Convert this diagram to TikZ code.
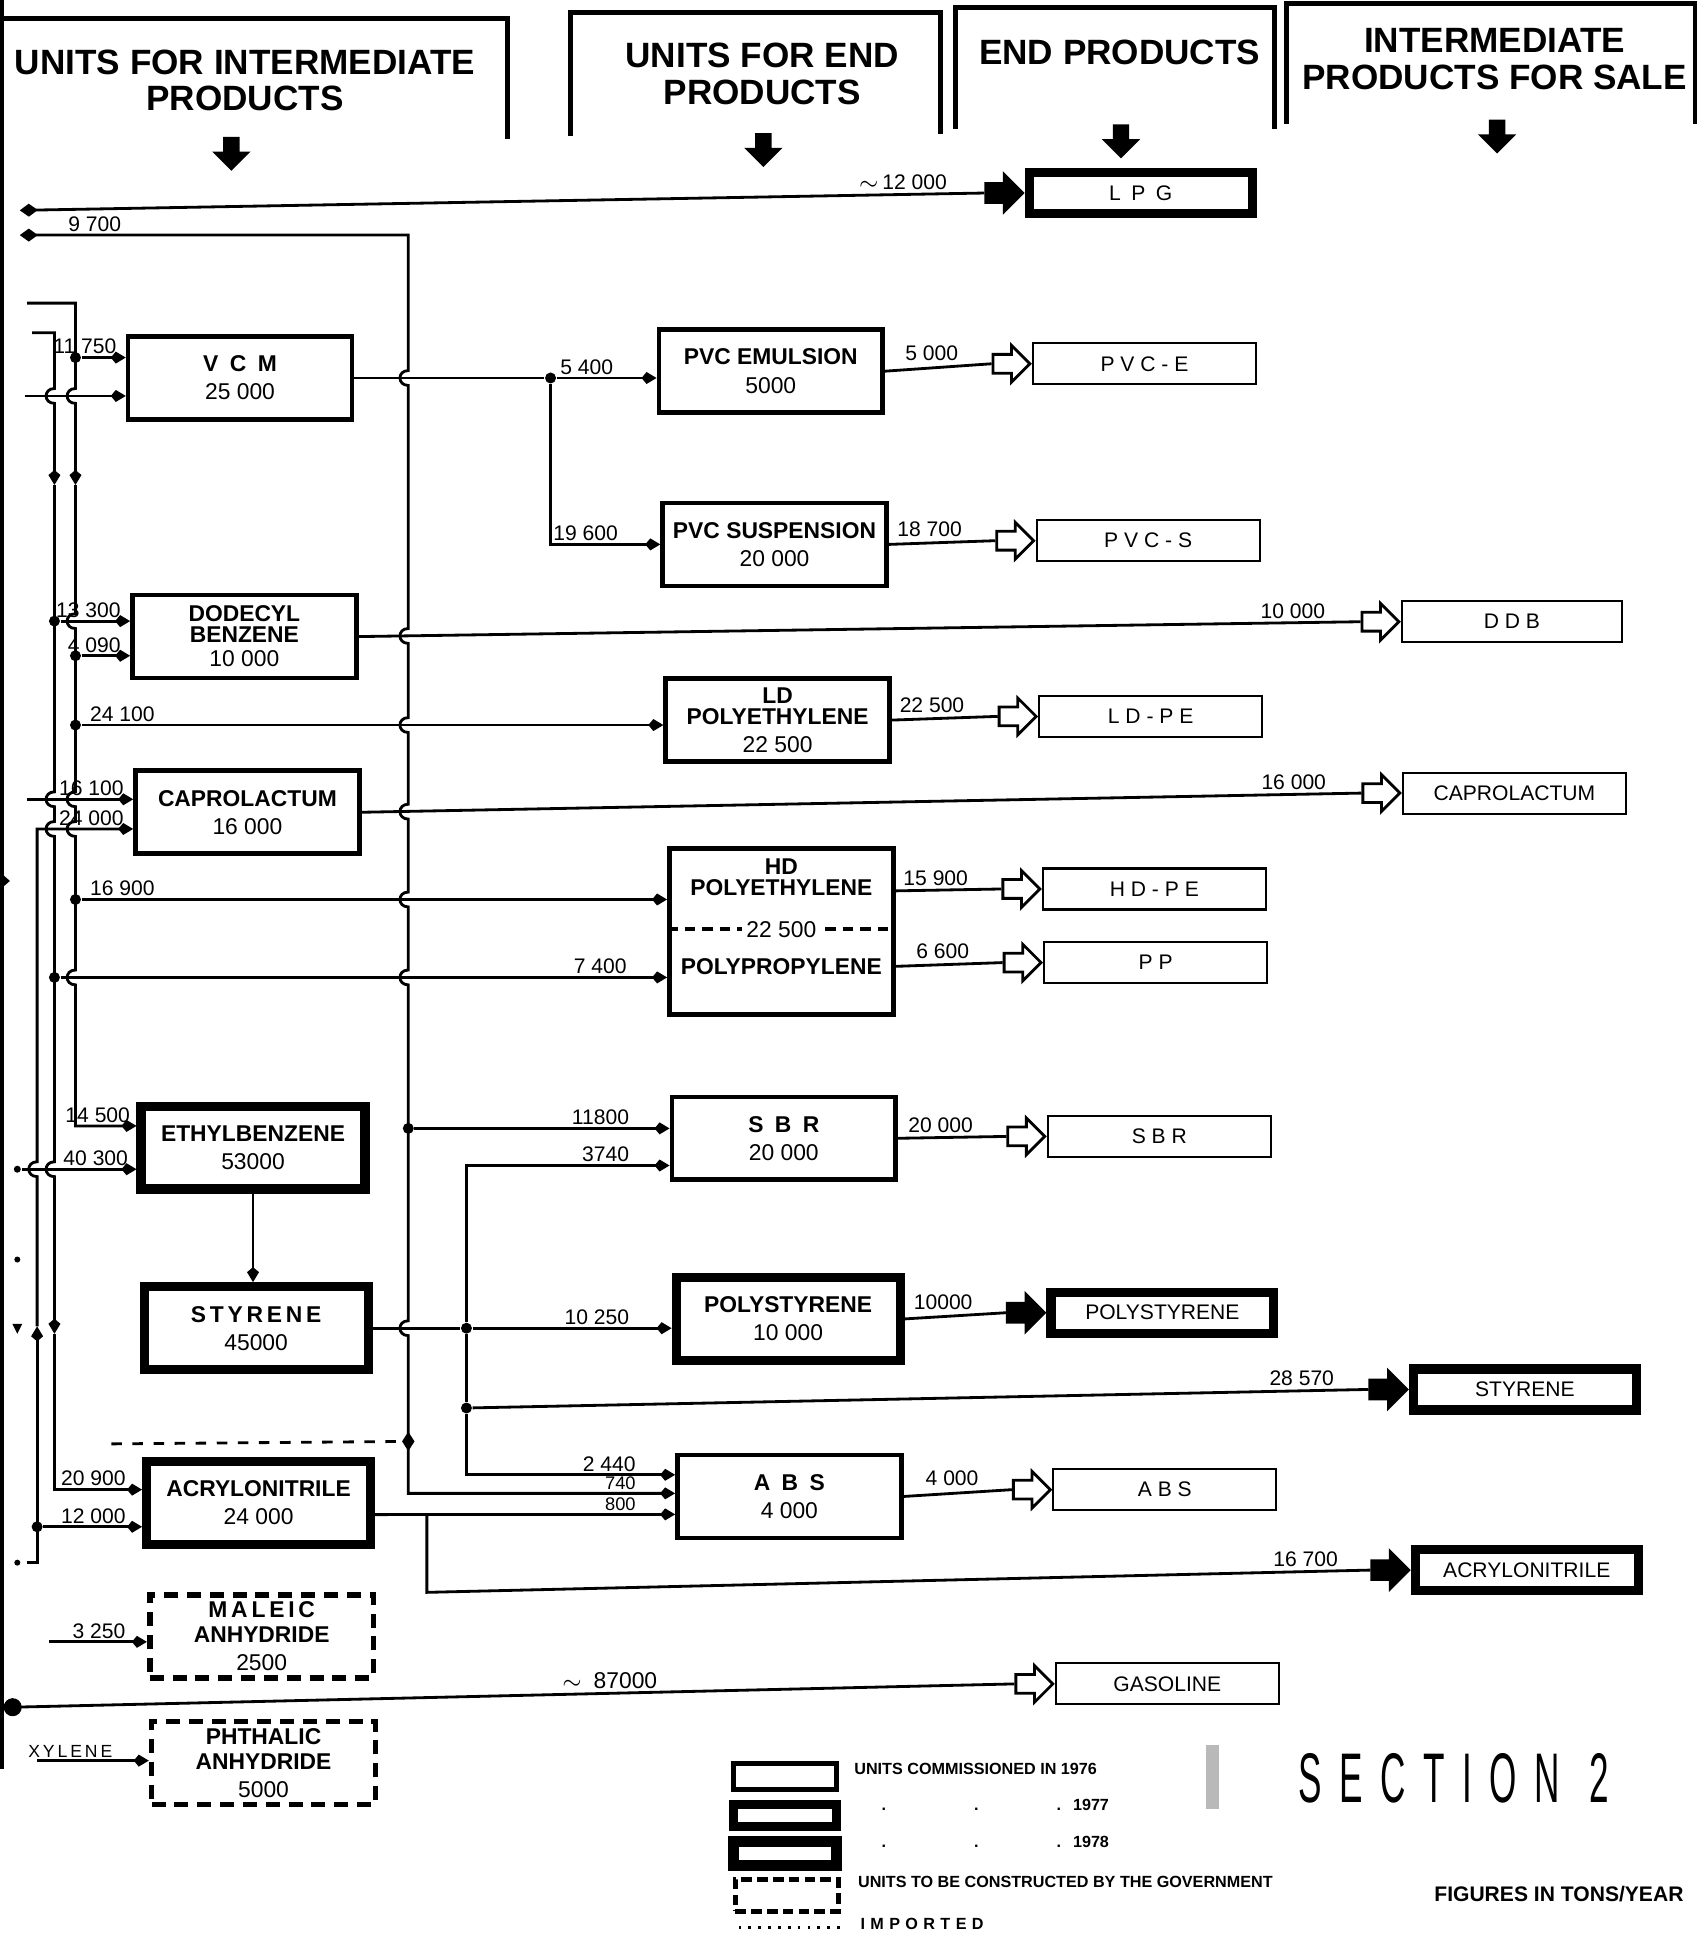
\documentclass[tikz,border=0pt]{standalone}
\usepackage{fontspec}
\setmainfont{Liberation Sans}
\usepackage{graphicx}
\usepackage{tikz}
\usetikzlibrary{arrows.meta,positioning,shapes.geometric,shapes.arrows}

\newcommand{\hopd}[2]{-- (#1,#2-6) .. controls (#1-9,#2-6) and (#1-9,#2+6) .. (#1,#2+6)}
\newcommand{\hopu}[2]{-- (#1,#2+6) .. controls (#1-9,#2+6) and (#1-9,#2-6) .. (#1,#2-6)}

\begin{document}
\begin{tikzpicture}[x=0.12377mm, y=-0.12377mm,
  >={Kite[length=1.5mm,width=1.2mm,inset=0.5mm]},
  unit/.style={draw, line width=1.3pt, minimum width=22.4mm, minimum height=8.3mm, align=center, inner sep=0pt, font=\fontsize{6.5}{8}\selectfont},
  unitB/.style={unit, line width=2.6pt},
  gov/.style={unit, line width=1.6pt, dash pattern=on 4pt off 2.5pt},
  prod/.style={draw, line width=0.6pt, minimum width=22.3mm, minimum height=4.1mm, inner sep=0pt, font=\fontsize{6}{6}\selectfont},
  prodB/.style={prod, line width=2.6pt},
  pipe/.style={line width=0.8pt},
  flow/.style={pipe, ->},
  jn/.style={circle, fill, inner sep=0pt, minimum size=1.1mm},
  lbl/.style={font=\fontsize{6}{6}\selectfont, inner sep=0.6pt, anchor=south east},
  outarr/.style={single arrow, draw, line width=0.8pt, fill=white, minimum height=3.7mm, inner sep=0.8mm, single arrow head extend=0.9mm, anchor=tip},
  outarrB/.style={outarr, fill=black},
  head/.style={font=\fontsize{10}{10.5}\selectfont\bfseries, align=center, inner sep=0pt},
  hdarr/.style={single arrow, fill=black, rotate=-90, minimum height=3.4mm, inner sep=0.75mm, single arrow head extend=1.1mm},
  frame/.style={line width=1.4pt},
  legend/.style={draw, minimum width=10.3mm, minimum height=2.6mm, inner sep=0pt},
  note/.style={font=\fontsize{4.6}{5}\selectfont\bfseries, anchor=west, inner sep=0pt}
]
\useasboundingbox (0,0) rectangle (1380,1568);

\node[head] (h1) at (198,65) {UNITS FOR INTERMEDIATE\\PRODUCTS};
\node[head] (h2) at (616,60) {UNITS FOR END\\PRODUCTS};
\node[head] (h3) at (905,42) {END PRODUCTS};
\node[head] (h4) at (1208,48) {INTERMEDIATE\\PRODUCTS FOR SALE};
\draw[frame] (0,15) -- (410,15) -- (410,112);
\draw[frame] (461,110) |- (760,10) -- (760,108);
\draw[frame] (772,104) |- (1030,6) -- (1030,104);
\draw[frame] (1040,100) |- (1370,3) -- (1370,100);
\node[hdarr] (ha1) at (187,121) {};
\node[hdarr] (ha2) at (617,118) {};
\node[hdarr] (ha3) at (906,111) {};
\node[hdarr] (ha4) at (1210,107) {};
\draw[line width=1.5pt] (1,0) -- (1,1430);
\fill (0,705) -- (8,712) -- (0,719) -- cycle;

\node[unit] (vcm) at (194,305.5) {\textbf{V\enspace C\enspace M}\\25 000};
\node[unit] (ddb) at (197.5,514.5) {\textbf{DODECYL}\\[-2.2pt]\textbf{BENZENE}\\[-1pt]10 000};
\node[unit] (cap) at (200,656.5) {\textbf{CAPROLACTUM}\\16 000};
\node[unitB] (etb) at (204.5,927.5) {\textbf{ETHYLBENZENE}\\53000};
\node[unitB] (sty) at (207,1073.5) {\textbf{S\,T\,Y\,R\,E\,N\,E}\\45000};
\node[unitB] (acn) at (209,1214.5) {\textbf{ACRYLONITRILE}\\24 000};
\node[gov] (mal) at (211.5,1322.5) {\textbf{M\,A\,L\,E\,I\,C}\\[-1pt]\textbf{ANHYDRIDE}\\2500};
\node[gov] (pht) at (213,1425) {\textbf{PHTHALIC}\\[-1pt]\textbf{ANHYDRIDE}\\5000};

\node[unit] (pve) at (623,300) {\textbf{PVC EMULSION}\\5000};
\node[unit] (pvs) at (626,440) {\textbf{PVC SUSPENSION}\\20 000};
\node[unit] (ldp) at (628.5,582) {\textbf{LD}\\[-2pt]\textbf{POLYETHYLENE}\\22 500};
\node[unit, minimum height=16.6mm] (hdp) at (631.5,753) {};
\node[font=\fontsize{6.5}{8}\selectfont\bfseries, align=center, inner sep=0pt] (hdTxt) at (631.5,709) {HD\\[-2pt]POLYETHYLENE};
\node[font=\fontsize{6.5}{8}\selectfont\bfseries, inner sep=0pt] (ppTxt) at (631.5,781) {POLYPROPYLENE};
\draw[line width=1.2pt, dash pattern=on 3pt off 2pt] ([yshift=0.25mm]hdp.west) -- ([yshift=0.25mm]hdp.east);
\node[fill=white, inner sep=1.2pt, font=\fontsize{6.5}{8}\selectfont] (hdpCap) at ([yshift=0.25mm]hdp.center) {22 500};
\node[unit] (sbr) at (633.5,920) {\textbf{S\enspace B\enspace R}\\20 000};
\node[unitB] (pst) at (637,1066) {\textbf{POLYSTYRENE}\\10 000};
\node[unit] (abs) at (638,1209.5) {\textbf{A\enspace B\enspace S}\\4 000};

\node[prodB] (lpgP) at (922,156) {L\enspace P\enspace G};
\node[prod] (pveP) at (925,294) {P V C - E};
\node[prod] (pvsP) at (928,437) {P V C - S};
\node[prod] (ldpP) at (930,579) {L D - P E};
\node[prod] (hdpP) at (933,718.5) {H D - P E};
\node[prod] (ppP) at (934,778) {P P};
\node[prod] (sbrP) at (937,918.5) {S B R};
\node[prodB] (pstP) at (939.5,1061) {POLYSTYRENE};
\node[prod] (absP) at (941.5,1204) {A B S};
\node[prod] (gasP) at (943.5,1361) {GASOLINE};
\node[prod, minimum width=22mm] (ddbS) at (1222,502.5) {D D B};
\node[prod] (capS) at (1224,641) {CAPROLACTUM};
\node[prodB] (styS) at (1232.5,1123) {STYRENE};
\node[prodB] (acnS) at (1234,1269) {ACRYLONITRILE};

\node[outarrB] (aLPG) at (lpgP.west) {};
\node[outarr] (aPVE) at (pveP.west) {};
\node[outarr] (aPVS) at (pvsP.west) {};
\node[outarr] (aLDP) at (ldpP.west) {};
\node[outarr] (aHDP) at (hdpP.west) {};
\node[outarr] (aPP) at (ppP.west) {};
\node[outarr] (aSBR) at (sbrP.west) {};
\node[outarrB] (aPST) at (pstP.west) {};
\node[outarr] (aABS) at (absP.west) {};
\node[outarr] (aGAS) at (gasP.west) {};
\node[outarr] (aDDB) at (ddbS.west) {};
\node[outarr] (aCAP) at (capS.west) {};
\node[outarrB] (aSTY) at (styS.west) {};
\node[outarrB] (aACN) at (acnS.west) {};

\coordinate (lpgIn) at (16,170);
\coordinate (c9700) at (16,190);
\coordinate (busTop) at (330,190);
\coordinate (busBot) at (330,1207);
\coordinate (vbIn) at (22,245);
\coordinate (vbTop) at (61,245);
\coordinate (vbMid) at (61,392);
\coordinate (vbBot) at (61,910);
\coordinate (vaIn) at (26,269);
\coordinate (vaTop) at (44,269);
\coordinate (vaMid) at (44,392);
\coordinate (vaMid2) at (44,1078);
\coordinate (vaBot) at (44,1204);
\coordinate (vlIn) at (22,1263);
\coordinate (vlBot) at (30,1263);
\coordinate (vlMid) at (30,1072);
\coordinate (vlTop) at (30,670);
\coordinate (vcmIn2) at (20,320);
\coordinate (capIn1) at (22,646);
\coordinate (etbIn2) at (18,945);
\coordinate (malIn) at (40,1327);
\coordinate (phtIn) at (30,1423);
\coordinate (gasIn) at (3,1380);
\coordinate (dashL) at (90,1167);
\coordinate (cSBR2) at (377,942);
\coordinate (cABS1) at (377,1192);
\coordinate (jACN) at (345,1224);
\coordinate (cACN) at (345,1287);

\node[jn] (jB1) at (61,289) {};
\node[jn] (jB2) at (61,530) {};
\node[jn] (jB3) at (61,586) {};
\node[jn] (jB4) at (61,727) {};
\node[jn] (jA1) at (44,502) {};
\node[jn] (jA2) at (44,790) {};
\node[jn] (jL1) at (30,1234) {};
\node[jn] (jPVC) at (445,305.5) {};
\node[jn] (jSBR) at (330,912) {};
\node[jn] (jN2) at (377,1073.5) {};
\node[jn] (jN3) at (377,1138) {};
\node[diamond, fill, inner sep=0pt, minimum width=1.3mm, minimum height=2mm] (jDash) at (330,1165) {};

\draw[pipe, arrows={Diamond[length=1.8mm,width=1.3mm]-}] (lpgIn) -- (aLPG.tail) node[lbl, pos=1, xshift=-3.4mm] {$\sim$\,12 000};
\draw[pipe, arrows={Diamond[length=1.8mm,width=1.3mm]->}] (c9700) -- (busTop) node[lbl, pos=0.27] {9 700} \hopd{330}{305.5} \hopd{330}{514} \hopd{330}{586} \hopd{330}{656} \hopd{330}{727} \hopd{330}{790} -- (jSBR.center) \hopd{330}{1073.5} -- (jDash.center) -- (busBot) -- (busBot -| abs.west) node[lbl, pos=1, xshift=-3.6mm, font=\fontsize{5.2}{5}\selectfont] {740};

\draw[pipe, ->] (vbIn) -- (vbTop) \hopd{61}{320} -- (vbMid);
\draw[flow] (vbMid) \hopd{61}{502} \hopd{61}{646} \hopd{61}{670} \hopd{61}{790} -- (vbBot) -- (vbBot -| etb.west) node[lbl, pos=1, xshift=-0.3mm] {14 500};
\draw[pipe, ->] (vaIn) -- (vaTop) \hopd{44}{320} -- (vaMid);
\draw[pipe, ->] (vaMid) \hopd{44}{646} \hopd{44}{670} \hopd{44}{945} -- (vaMid2);
\draw[flow] (vaMid2) -- (vaBot) -- (vaBot -| acn.west) node[lbl, pos=1, xshift=-1.3mm] {20 900};
\draw[pipe, ->] (vlIn) -- (vlBot) -- (vlMid);
\draw[flow] (vlMid) \hopu{30}{945} -- (vlTop) -- (vlTop -| cap.west) node[lbl, pos=1, xshift=-0.6mm] {24 000};

\draw[flow] (jB1) -- (jB1 -| vcm.west) node[lbl, pos=1, xshift=-0.6mm] {11 750};
\draw[flow] (vcmIn2) -- (vcmIn2 -| vcm.west);
\draw[pipe] (vcm.east) -- (jPVC);
\draw[flow] (jPVC) -- (jPVC -| pve.west) node[lbl, pos=1, xshift=-4mm] {5 400};
\draw[flow] (jPVC) |- (pvs.west) node[lbl, pos=1, xshift=-3.9mm] {19 600};
\draw[pipe] (pve.east) -- (aPVE.tail) node[lbl, pos=1, xshift=-3mm] {5 000};
\draw[pipe] (pvs.east) -- (aPVS.tail) node[lbl, pos=1, xshift=-3mm] {18 700};

\draw[flow] (jA1) -- (jA1 -| ddb.west) node[lbl, pos=1, xshift=-0.6mm] {13 300};
\draw[flow] (jB2) -- (jB2 -| ddb.west) node[lbl, pos=1, xshift=-0.6mm] {4 090};
\draw[pipe] (ddb.east) -- (aDDB.tail) node[lbl, pos=1, xshift=-3.2mm] {10 000};

\draw[flow] (jB3) -- (jB3 -| ldp.west) node[lbl, pos=0, anchor=south west, xshift=0.5mm] {24 100};
\draw[pipe] (ldp.east) -- (aLDP.tail) node[lbl, pos=1, xshift=-3mm] {22 500};

\draw[flow] (capIn1) -- (capIn1 -| cap.west) node[lbl, pos=1, xshift=-0.6mm] {16 100};
\draw[pipe] (cap.east) -- (aCAP.tail) node[lbl, pos=1, xshift=-3.2mm] {16 000};

\draw[flow] (jB4) -- (jB4 -| hdp.west) node[lbl, pos=0, anchor=south west, xshift=0.5mm] {16 900};
\draw[flow] (jA2) -- (jA2 -| hdp.west) node[lbl, pos=1, xshift=-3.7mm] {7 400};
\draw[pipe] ([yshift=4.08mm]hdp.east) -- (aHDP.tail) node[lbl, pos=1, xshift=-3mm] {15 900};
\draw[pipe] ([yshift=-3.47mm]hdp.east) -- (aPP.tail) node[lbl, pos=1, xshift=-3mm] {6 600};

\draw[flow] (jSBR) -- (jSBR -| sbr.west) node[lbl, pos=1, xshift=-3.7mm] {11800};
\draw[flow] (jN2) -- (cSBR2) -- (cSBR2 -| sbr.west) node[lbl, pos=1, xshift=-3.7mm] {3740};
\draw[pipe] (sbr.east) -- (aSBR.tail) node[lbl, pos=1, xshift=-3mm] {20 000};

\draw[flow] (etbIn2) -- (etbIn2 -| etb.west) node[lbl, pos=1, xshift=-0.5mm] {40 300};
\draw[flow] (etb.south) -- (etb.south |- sty.north);
\draw[pipe] (sty.east) -- (jN2);
\draw[flow] (jN2) -- (jN2 -| pst.west) node[lbl, pos=1, xshift=-3.9mm] {10 250};
\draw[pipe] (pst.east) -- (aPST.tail) node[lbl, pos=1, xshift=-3mm] {10000};
\draw[pipe] (jN2) -- (jN3);
\draw[pipe] (jN3) -- (aSTY.tail) node[lbl, pos=1, xshift=-3.1mm] {28 570};
\draw[flow] (jN3) -- (cABS1) -- (cABS1 -| abs.west) node[lbl, pos=1, xshift=-3.6mm] {2 440};

\draw[pipe] ([yshift=-1.2mm]acn.east) -- (jACN);
\draw[flow] (jACN) -- (jACN -| abs.west) node[lbl, pos=1, xshift=-3.6mm, font=\fontsize{5.2}{5}\selectfont] {800};
\draw[pipe] (jACN) -- (cACN) -- (aACN.tail) node[lbl, pos=1, xshift=-2.9mm] {16 700};
\draw[flow] (jL1) -- (jL1 -| acn.west) node[lbl, pos=1, xshift=-1.3mm] {12 000};
\draw[pipe] (abs.east) -- (aABS.tail) node[lbl, pos=1, xshift=-3mm] {4 000};
\draw[pipe, dashed] (dashL) -- (jDash);

\draw[flow] (malIn) -- (malIn -| mal.west) node[lbl, pos=1, xshift=-1.8mm] {3 250};
\draw[flow] (phtIn) -- (phtIn -| pht.west) node[lbl, pos=1, xshift=-3.3mm, font=\fontsize{5}{5}\selectfont] {X\,Y\,L\,E\,N\,E};
\draw[pipe, arrows={Circle[length=1.8mm]-}] (gasIn) -- (aGAS.tail) node[lbl, pos=0.65, font=\fontsize{6.5}{6.5}\selectfont] {$\sim$\enspace 87000};

\fill (14,945) circle[radius=0.35mm];
\fill (14,1018) circle[radius=0.3mm];
\fill (10,1070) -- (18,1070) -- (14,1078) -- cycle;
\fill (14,1263) circle[radius=0.3mm];

\node[legend, line width=1.4pt] (lg76) at (634.5,1435.5) {};
\node[legend, line width=2.6pt, minimum height=2.2mm] (lg77) at (634.5,1467.5) {};
\node[legend, line width=3pt, minimum height=2.4mm] (lg78) at (634.5,1498) {};
\node[legend, line width=1.4pt, dash pattern=on 3pt off 1.5pt, minimum height=3.2mm] (lgGov) at (636,1532) {};
\draw[dotted, line width=0.8pt] (597,1558) -- (680,1558);
\node[note] (t76) at (690,1430) {UNITS COMMISSIONED IN 1976};
\node[note] (t77) at (712,1459) {.\hspace{8.8mm}.\hspace{7.8mm}.\hspace{1.2mm}1977};
\node[note] (t78) at (712,1489) {.\hspace{8.8mm}.\hspace{7.8mm}.\hspace{1.2mm}1978};
\node[note] (tGov) at (693,1521) {UNITS TO BE CONSTRUCTED BY THE GOVERNMENT};
\node[note] (tImp) at (695,1555) {I\,\,M\,\,P\,\,O\,\,R\,\,T\,\,E\,\,D};

\fill[gray!55] (975,1410) rectangle (985,1462);
\node[inner sep=0pt] (sec) at (1175,1437) {\scalebox{0.5}[1]{\fontsize{20}{20}\selectfont S\hspace{3.5mm}E\hspace{3.5mm}C\hspace{3.5mm}T\hspace{3.5mm}I\hspace{3.5mm}O\hspace{3.5mm}N\hspace{6mm}2}};
\node[font=\fontsize{6}{6}\selectfont\bfseries, inner sep=0pt] (fig) at (1260,1531) {FIGURES IN TONS/YEAR};
\end{tikzpicture}
\end{document}
